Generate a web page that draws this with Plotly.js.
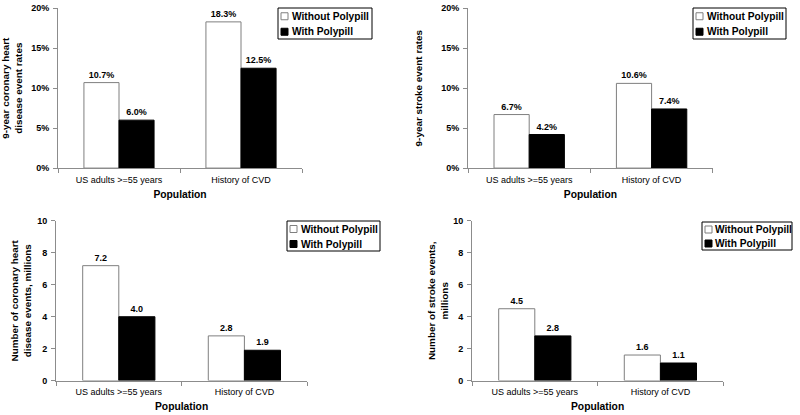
<!DOCTYPE html>
<html>
<head>
<meta charset="utf-8">
<script src="https://cdn.plot.ly/plotly-3.0.1.min.js"></script>
<style>
  html, body { margin: 0; padding: 0; background: #fff; }
  #chart { width: 800px; height: 415px; }
</style>
</head>
<body>
<div id="chart"></div>
<script>
// Polypill panels: event rates (top) and event counts (bottom)
const categories = ['US adults >=55 years', 'History of CVD'];
const seriesNames = ['Without Polypill', 'With Polypill'];

const chdRateWithout = [0.107, 0.183];
const chdRateWith = [0.060, 0.125];
const strokeRateWithout = [0.067, 0.106];
const strokeRateWith = [0.042, 0.074];

const chdCountWithout = [7.2, 2.8];
const chdCountWith = [4.0, 1.9];
const strokeCountWithout = [4.5, 1.6];
const strokeCountWith = [2.8, 1.1];

const W = 800, H = 415;
const FONT = '"Liberation Sans", Arial, sans-serif';
const AXIS_GREY = '#8c8c8c';
const WHITE_EDGE = '#7f7f7f';

function barPair(withoutVals, withVals, axisId, fmt) {
    const xa = axisId === 1 ? 'x' : 'x' + axisId;
    const ya = axisId === 1 ? 'y' : 'y' + axisId;
    const common = {
        x: categories,
        type: 'bar',
        xaxis: xa,
        yaxis: ya,
        texttemplate: fmt,
        textposition: 'outside',
        cliponaxis: false,
        textfont: { family: FONT, size: 9, color: '#000', weight: 'bold' },
        hoverinfo: 'none',
        showlegend: false
    };
    return [
        Object.assign({}, common, {
            y: withoutVals,
            name: seriesNames[0],
            marker: { color: '#fff', line: { color: WHITE_EDGE, width: 1 } }
        }),
        Object.assign({}, common, {
            y: withVals,
            name: seriesNames[1],
            marker: { color: '#000', line: { color: '#000', width: 1 } }
        })
    ];
}

const data = [].concat(
    barPair(chdRateWithout, chdRateWith, 1, '%{y:.1%}'),
    barPair(strokeRateWithout, strokeRateWith, 2, '%{y:.1%}'),
    barPair(chdCountWithout, chdCountWith, 3, '%{y:.1f}'),
    barPair(strokeCountWithout, strokeCountWith, 4, '%{y:.1f}')
);

function xAxis(domain, anchor) {
    return {
        domain: domain,
        anchor: anchor,
        showline: true,
        linecolor: AXIS_GREY,
        linewidth: 1,
        ticks: 'outside',
        tickson: 'boundaries',
        ticklen: 4,
        tickcolor: AXIS_GREY,
        ticklabelstandoff: 3,
        showgrid: false,
        zeroline: false,
        tickfont: { family: FONT, size: 9, color: '#000' },
        title: { text: 'Population', font: { family: FONT, size: 10.3, color: '#000', weight: 'bold' }, standoff: 6 }
    };
}

function yAxis(domain, anchor, range, tickvals, tickformat, title, standoff) {
    return {
        domain: domain,
        anchor: anchor,
        range: range,
        tickvals: tickvals,
        tickformat: tickformat,
        showline: true,
        linecolor: AXIS_GREY,
        linewidth: 1,
        ticks: 'outside',
        ticklen: 4,
        tickcolor: AXIS_GREY,
        ticklabelstandoff: 2,
        showgrid: false,
        zeroline: false,
        tickfont: { family: FONT, size: 9, color: '#000', weight: 'bold' },
        title: { text: title, font: { family: FONT, size: 9.9, color: '#000', weight: 'bold' }, standoff: standoff }
    };
}

// hand-drawn legend box (pixel coords of the box corners)
const shapes = [];
const annotations = [];
function addLegend(x0, y0, x1, y1, textGap) {
    const px = v => v / W;
    const py = v => 1 - v / H;
    shapes.push({
        type: 'rect', xref: 'paper', yref: 'paper', layer: 'above',
        x0: px(x0), x1: px(x1), y0: py(y0), y1: py(y1),
        line: { color: '#000', width: 1 }, fillcolor: '#fff'
    });
    const fills = ['#fff', '#000'];
    const edges = [WHITE_EDGE, '#000'];
    const rowH = (y1 - y0) / 2;
    seriesNames.forEach((name, i) => {
        const cy = y0 + rowH * (i + 0.5) + 0.5;
        shapes.push({
            type: 'rect', xref: 'paper', yref: 'paper', layer: 'above',
            x0: px(x0 + 3), x1: px(x0 + 10), y0: py(cy - 3.5), y1: py(cy + 3.5),
            line: { color: edges[i], width: 1 }, fillcolor: fills[i]
        });
        annotations.push({
            xref: 'paper', yref: 'paper', x: px(x0 + textGap), y: py(cy),
            xanchor: 'left', yanchor: 'middle', showarrow: false,
            text: name,
            font: { family: FONT, size: 10.2, color: '#000', weight: 'bold' }
        });
    });
}
addLegend(278, 8, 372, 39, 12);
addLegend(693, 8, 786, 39, 12);
addLegend(287, 221, 380, 251, 12);
addLegend(702, 222, 792, 250, 10.5);

const rateTicks = [0, 0.05, 0.10, 0.15, 0.20];
const countTicks = [0, 2, 4, 6, 8, 10];

const layout = {
    width: W,
    height: H,
    margin: { l: 0, r: 0, t: 0, b: 0 },
    paper_bgcolor: '#fff',
    plot_bgcolor: '#fff',
    font: { family: FONT, color: '#000' },
    barmode: 'group',
    bargap: 0.425,
    bargroupgap: 0,
    showlegend: false,
    xaxis: xAxis([0.0725, 0.3775], 'y'),
    yaxis: yAxis([0.595, 0.98], 'x', [0, 0.2], rateTicks, '.0%', '9-year coronary heart<br>disease event rates', 7),
    xaxis2: xAxis([0.585, 0.891], 'y2'),
    yaxis2: yAxis([0.595, 0.98], 'x2', [0, 0.2], rateTicks, '.0%', '9-year stroke event rates', 16),
    xaxis3: xAxis([0.07, 0.384], 'y3'),
    yaxis3: yAxis([0.083, 0.4675], 'x3', [0, 10], countTicks, 'd', 'Number of coronary heart<br>disease events, millions', 3),
    xaxis4: xAxis([0.59, 0.904], 'y4'),
    yaxis4: yAxis([0.083, 0.4675], 'x4', [0, 10], countTicks, 'd', 'Number of stroke events,<br>millions', 2),
    shapes: shapes,
    annotations: annotations
};

Plotly.newPlot('chart', data, layout, { staticPlot: true });
</script>
</body>
</html>
